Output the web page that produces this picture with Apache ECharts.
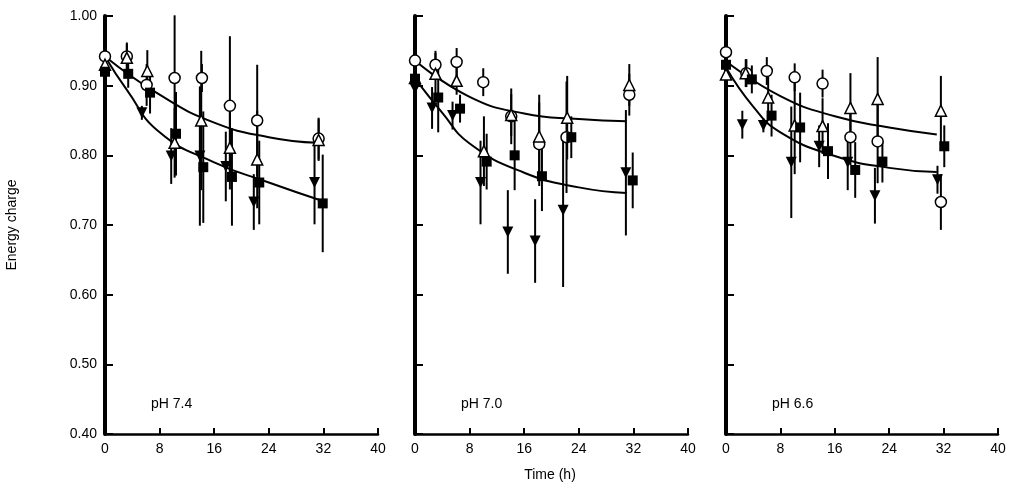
<!DOCTYPE html>
<html>
<head>
<meta charset="utf-8">
<script src="https://cdn.jsdelivr.net/npm/echarts@6/dist/echarts.min.js"></script>
<style>html,body{margin:0;background:#fff}#c{width:1014px;height:494px}</style>
</head>
<body>
<div id="c"></div>
<script>
// panel titles
var panelLabels = ['pH 7.4', 'pH 7.0', 'pH 6.6'];

// [time, value, errorHalf]
var circles = [
    [[0,0.942,0.01],[3.2,0.942,0.02],[6.1,0.901,0.03],[10.2,0.911,0.09],[14.2,0.911,0.02],[18.3,0.871,0.10],[22.3,0.850,0.08],[31.3,0.824,0.03]],
    [[0,0.936,0.01],[3,0.930,0.02],[6.1,0.934,0.02],[10,0.905,0.02],[14.1,0.856,0.04],[18.2,0.816,0.06],[22.2,0.826,0.08],[31.4,0.887,0.03]],
    [[0,0.948,0.01],[3,0.918,0.02],[6,0.921,0.02],[10.1,0.912,0.02],[14.2,0.903,0.02],[18.3,0.826,0.04],[22.3,0.820,0.06],[31.6,0.733,0.04]]
];
var triangles = [
    [[0,0.930,0.01],[3.2,0.940,0.02],[6.2,0.921,0.03],[10.2,0.818,0.05],[14.1,0.850,0.10],[18.3,0.811,0.06],[22.3,0.794,0.07],[31.3,0.822,0.03]],
    [[0,0.911,0.02],[3,0.917,0.03],[6.1,0.907,0.02],[10.1,0.806,0.05],[14.1,0.858,0.03],[18.2,0.827,0.06],[22.3,0.854,0.06],[31.4,0.901,0.03]],
    [[0,0.916,0.02],[2.9,0.918,0.02],[6.2,0.883,0.03],[10.1,0.843,0.07],[14.2,0.842,0.04],[18.3,0.868,0.05],[22.3,0.881,0.06],[31.6,0.864,0.05]]
];
var squares = [
    [[0,0.920,0.01],[3.4,0.917,0.02],[6.6,0.890,0.03],[10.4,0.831,0.06],[14.4,0.783,0.08],[18.6,0.769,0.07],[22.6,0.761,0.06],[31.9,0.731,0.07]],
    [[0,0.910,0.02],[3.4,0.883,0.05],[6.6,0.867,0.02],[10.5,0.791,0.04],[14.6,0.800,0.05],[18.6,0.770,0.05],[22.9,0.826,0.03],[31.9,0.764,0.04]],
    [[0,0.930,0.01],[3.8,0.909,0.02],[6.7,0.857,0.03],[10.9,0.840,0.05],[15,0.806,0.04],[19,0.779,0.04],[23,0.791,0.03],[32.1,0.813,0.03]]
];
var invTriangles = [
    [[5.4,0.861,0.01],[9.7,0.799,0.04],[13.9,0.799,0.10],[17.7,0.784,0.05],[21.8,0.733,0.04],[30.7,0.761,0.06]],
    [[0,0.896,0.02],[2.5,0.868,0.03],[5.5,0.857,0.02],[9.6,0.761,0.06],[13.6,0.690,0.06],[17.6,0.677,0.06],[21.7,0.721,0.11],[30.9,0.775,0.09]],
    [[2.4,0.844,0.02],[5.5,0.843,0.01],[9.6,0.790,0.08],[13.7,0.813,0.03],[17.9,0.790,0.04],[21.9,0.742,0.04],[31.1,0.765,0.02]]
];
// fitted curves
var upperCurve = [
    [[0,0.942],[8,0.887],[16,0.847],[24,0.826],[31,0.818]],
    [[0,0.936],[8,0.884],[16,0.860],[24,0.852],[31,0.849]],
    [[0,0.935],[8,0.885],[16,0.856],[24,0.840],[31,0.830]]
];
var lowerCurve = [
    [[0,0.942],[3.2,0.894],[8,0.833],[16,0.790],[24,0.761],[32,0.734]],
    [[0,0.910],[4,0.861],[8,0.817],[16,0.775],[24,0.754],[31,0.746]],
    [[0,0.926],[4,0.870],[8,0.833],[16,0.799],[24,0.782],[31,0.776]]
];

var grids = [{left:105,right:636},{left:415,right:326},{left:726,right:16}];
var invTri = 'path://M0,0L10,0L5,10Z';

var option = {
    backgroundColor: '#fff',
    animation: false,
    textStyle: {fontFamily: 'Liberation Sans, Arial'},
    grid: [], xAxis: [], yAxis: [], series: [],
    graphic: [
        {type:'text', x:12, y:225, rotation:Math.PI/2, style:{text:'Energy charge', font:'14px Liberation Sans', fill:'#000', textAlign:'center', textVerticalAlign:'middle'}},
        {type:'text', x:550, y:468, style:{text:'Time (h)', font:'14px Liberation Sans', fill:'#000', textAlign:'center'}}
    ]
};

function errBar(data, idx) {
    return {
        type: 'custom', xAxisIndex: idx, yAxisIndex: idx, silent: true,
        data: data.map(function (d) { return [d[0], d[1] - d[2], d[1] + d[2]]; }),
        renderItem: function (params, api) {
            var a = api.coord([api.value(0), api.value(1)]);
            var b = api.coord([api.value(0), api.value(2)]);
            return {type:'line', shape:{x1:a[0], y1:a[1], x2:b[0], y2:b[1]}, style:{stroke:'#000', lineWidth:2}};
        },
        z: 1
    };
}

for (var i = 0; i < 3; i++) {
    option.grid.push({left:grids[i].left, right:grids[i].right, top:16, bottom:60});
    option.xAxis.push({
        gridIndex:i, type:'value', min:0, max:40, interval:8,
        axisLine:{lineStyle:{color:'#000', width:2.5}},
        axisTick:{inside:true, length:6, lineStyle:{color:'#000', width:2}},
        axisLabel:{color:'#000', fontSize:14, margin:8},
        splitLine:{show:false}
    });
    option.yAxis.push({
        gridIndex:i, type:'value', min:0.4, max:1.0, interval:0.1,
        axisLine:{show:true, lineStyle:{color:'#000', width:4}},
        axisTick:{inside:true, length:8, lineStyle:{color:'#000', width:2}},
        axisLabel:{show:i === 0, color:'#000', fontSize:14, formatter:function (v) { return v.toFixed(2); }},
        splitLine:{show:false}
    });
    option.graphic.push({type:'text', x:grids[i].left + 46, y:397,
        style:{text:panelLabels[i], font:'14px Liberation Sans', fill:'#000'}});

    [circles, triangles, squares, invTriangles].forEach(function (s) {
        option.series.push(errBar(s[i], i));
    });
    option.series.push({type:'line', xAxisIndex:i, yAxisIndex:i, data:upperCurve[i], smooth:true,
        showSymbol:false, lineStyle:{color:'#000', width:2}, z:2});
    option.series.push({type:'line', xAxisIndex:i, yAxisIndex:i, data:lowerCurve[i], smooth:true,
        showSymbol:false, lineStyle:{color:'#000', width:2}, z:2});
    option.series.push({type:'scatter', xAxisIndex:i, yAxisIndex:i, data:circles[i], symbol:'circle', symbolSize:11,
        itemStyle:{color:'#fff', borderColor:'#000', borderWidth:1.5, opacity:1}, z:3});
    option.series.push({type:'scatter', xAxisIndex:i, yAxisIndex:i, data:triangles[i], symbol:'triangle', symbolSize:11,
        itemStyle:{color:'#fff', borderColor:'#000', borderWidth:1.5, opacity:1}, z:4});
    option.series.push({type:'scatter', xAxisIndex:i, yAxisIndex:i, data:squares[i], symbol:'rect', symbolSize:10,
        itemStyle:{color:'#000', opacity:1}, z:4});
    option.series.push({type:'scatter', xAxisIndex:i, yAxisIndex:i, data:invTriangles[i], symbol:invTri, symbolSize:11,
        itemStyle:{color:'#000', opacity:1}, z:4});
}

var myChart = echarts.init(document.getElementById('c'));
myChart.setOption(option);
</script>
</body>
</html>
